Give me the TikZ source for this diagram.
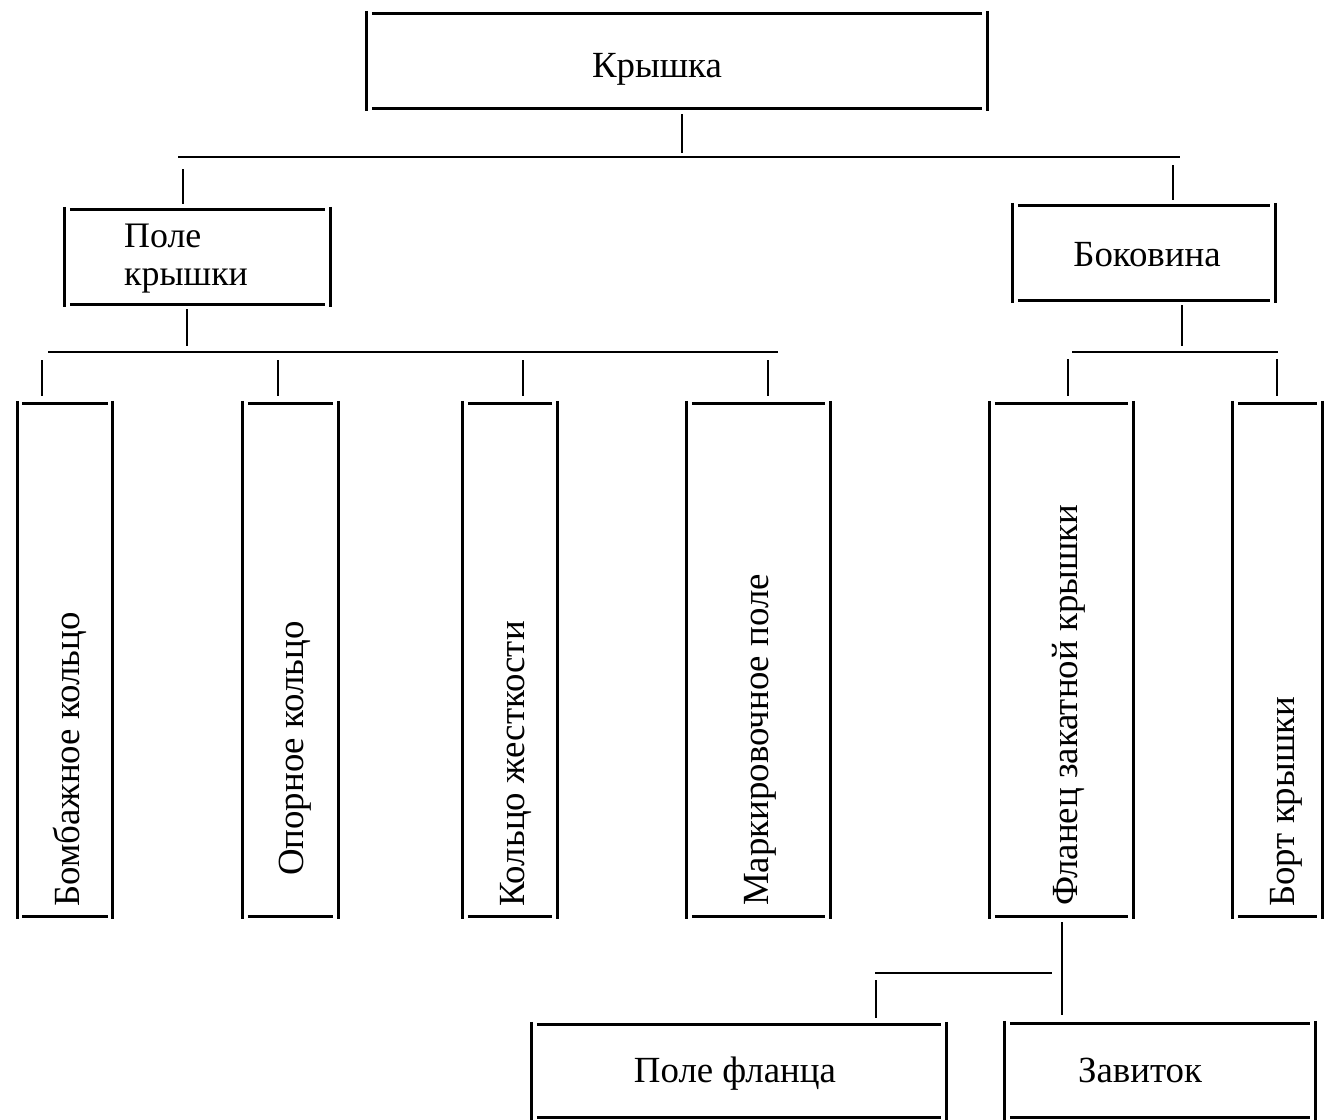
\documentclass[tikz,border=0pt]{standalone}
\usepackage{fontspec}
\setmainfont{Liberation Serif}
\newcommand\brkbox[1]{%
  \draw[hline] ([xshift=5bp]#1.north west) -- ([xshift=-5bp]#1.north east);
  \draw[hline] ([xshift=5bp]#1.south west) -- ([xshift=-5bp]#1.south east);
  \draw[vline] ([yshift=3bp]#1.north west) -- ([yshift=-3bp]#1.south west);
  \draw[vline] ([yshift=3bp]#1.north east) -- ([yshift=-3bp]#1.south east);}
\begin{document}
\begin{tikzpicture}[x=1bp,y=-1bp,
  box/.style={rectangle, inner sep=0pt, draw=none},
  hline/.style={line width=3.2bp},
  vline/.style={line width=2.7bp},
  conn/.style={line width=2.3bp},
  lbl/.style={inner sep=0pt, font=\fontsize{37}{37}\selectfont},
  vlbl/.style={lbl, rotate=90, anchor=base west}]
\useasboundingbox (0,0) rectangle (1325,1119);

% boxes
\node[box, minimum width=620bp, minimum height=94bp] (top) at (677,61) {};
\node[box, minimum width=265bp, minimum height=94bp] (pk) at (197.5,257) {};
\node[box, minimum width=262bp, minimum height=94bp] (bok) at (1144,253) {};
\node[box, minimum width=95bp, minimum height=512bp] (v1) at (65,660) {};
\node[box, minimum width=95bp, minimum height=512bp] (v2) at (290.5,660) {};
\node[box, minimum width=94bp, minimum height=512bp] (v3) at (510,660) {};
\node[box, minimum width=143bp, minimum height=512bp] (v4) at (758.5,660) {};
\node[box, minimum width=143bp, minimum height=512bp] (v5) at (1061.5,660) {};
\node[box, minimum width=89bp, minimum height=512bp] (v6) at (1277.5,660) {};
\node[box, minimum width=414bp, minimum height=92bp] (pf) at (739,1071) {};
\node[box, minimum width=310bp, minimum height=93bp] (zav) at (1160,1070.5) {};

\foreach \b in {top,pk,bok,v1,v2,v3,v4,v5,v6,pf,zav} {\brkbox{\b}}

% labels
\node[lbl, anchor=base] (t-top) at (657,77) {Крышка};
\node[lbl, anchor=north west, align=left, font=\fontsize{36}{38}\selectfont] (t-pk) at (124,224) {Поле\\крышки};
\node[lbl, anchor=base] (t-bok) at (1147,266) {Боковина};
\node[lbl, anchor=base] (t-pf) at (735,1082) {Поле фланца};
\node[lbl, anchor=base] (t-zav) at (1140,1082) {Завиток};
\node[vlbl] (t-v1) at (79,907) {Бомбажное кольцо};
\node[vlbl] (t-v2) at (303,876) {Опорное кольцо};
\node[vlbl] (t-v3) at (524,907) {Кольцо жесткости};
\node[vlbl] (t-v4) at (768,906) {Маркировочное поле};
\node[vlbl] (t-v5) at (1077,906) {Фланец закатной крышки};
\node[vlbl] (t-v6) at (1294,907) {Борт крышки};

% level 1 connectors
\coordinate (s1) at (682,157);
\coordinate (b1l) at (178,157);
\coordinate (b1r) at (1180,157);
\coordinate (d1a) at (183,157);
\coordinate (d1b) at (1173,157);
\draw[conn] (b1l) -- (b1r);
\draw[conn, shorten <=6bp, shorten >=4bp] (top.south -| s1) -- (s1);
\draw[conn, shorten <=12bp, shorten >=6bp] (d1a) -- (pk.north -| d1a);
\draw[conn, shorten <=8bp, shorten >=6bp] (d1b) -- (bok.north -| d1b);

% level 2 left
\coordinate (s2) at (187,352);
\coordinate (b2l) at (48,352);
\coordinate (b2r) at (778,352);
\draw[conn] (b2l) -- (b2r);
\draw[conn, shorten <=5bp, shorten >=6bp] (pk.south -| s2) -- (s2);
\foreach \x/\n in {42/v1,278/v2,523/v3,768/v4} {
  \coordinate (d2-\n) at (\x,352);
  \draw[conn, shorten <=8bp, shorten >=8bp] (d2-\n) -- (\n.north -| d2-\n);
}

% level 2 right
\coordinate (s3) at (1182,352);
\coordinate (b3l) at (1072,352);
\coordinate (b3r) at (1278,352);
\draw[conn] (b3l) -- (b3r);
\draw[conn, shorten <=5bp, shorten >=6bp] (bok.south -| s3) -- (s3);
\foreach \x/\n in {1068/v5,1277/v6} {
  \coordinate (d3-\n) at (\x,352);
  \draw[conn, shorten <=7bp, shorten >=8bp] (d3-\n) -- (\n.north -| d3-\n);
}

% level 3
\coordinate (s4) at (1062,916);
\draw[conn, shorten <=6bp, shorten >=9bp] (v5.south -| s4) -- (zav.north -| s4);
\coordinate (b4l) at (875,973);
\coordinate (b4r) at (1052,973);
\draw[conn] (b4l) -- (b4r);
\coordinate (d4) at (876,973);
\draw[conn, shorten <=7bp, shorten >=7bp] (d4) -- (pf.north -| d4);
\end{tikzpicture}
\end{document}
